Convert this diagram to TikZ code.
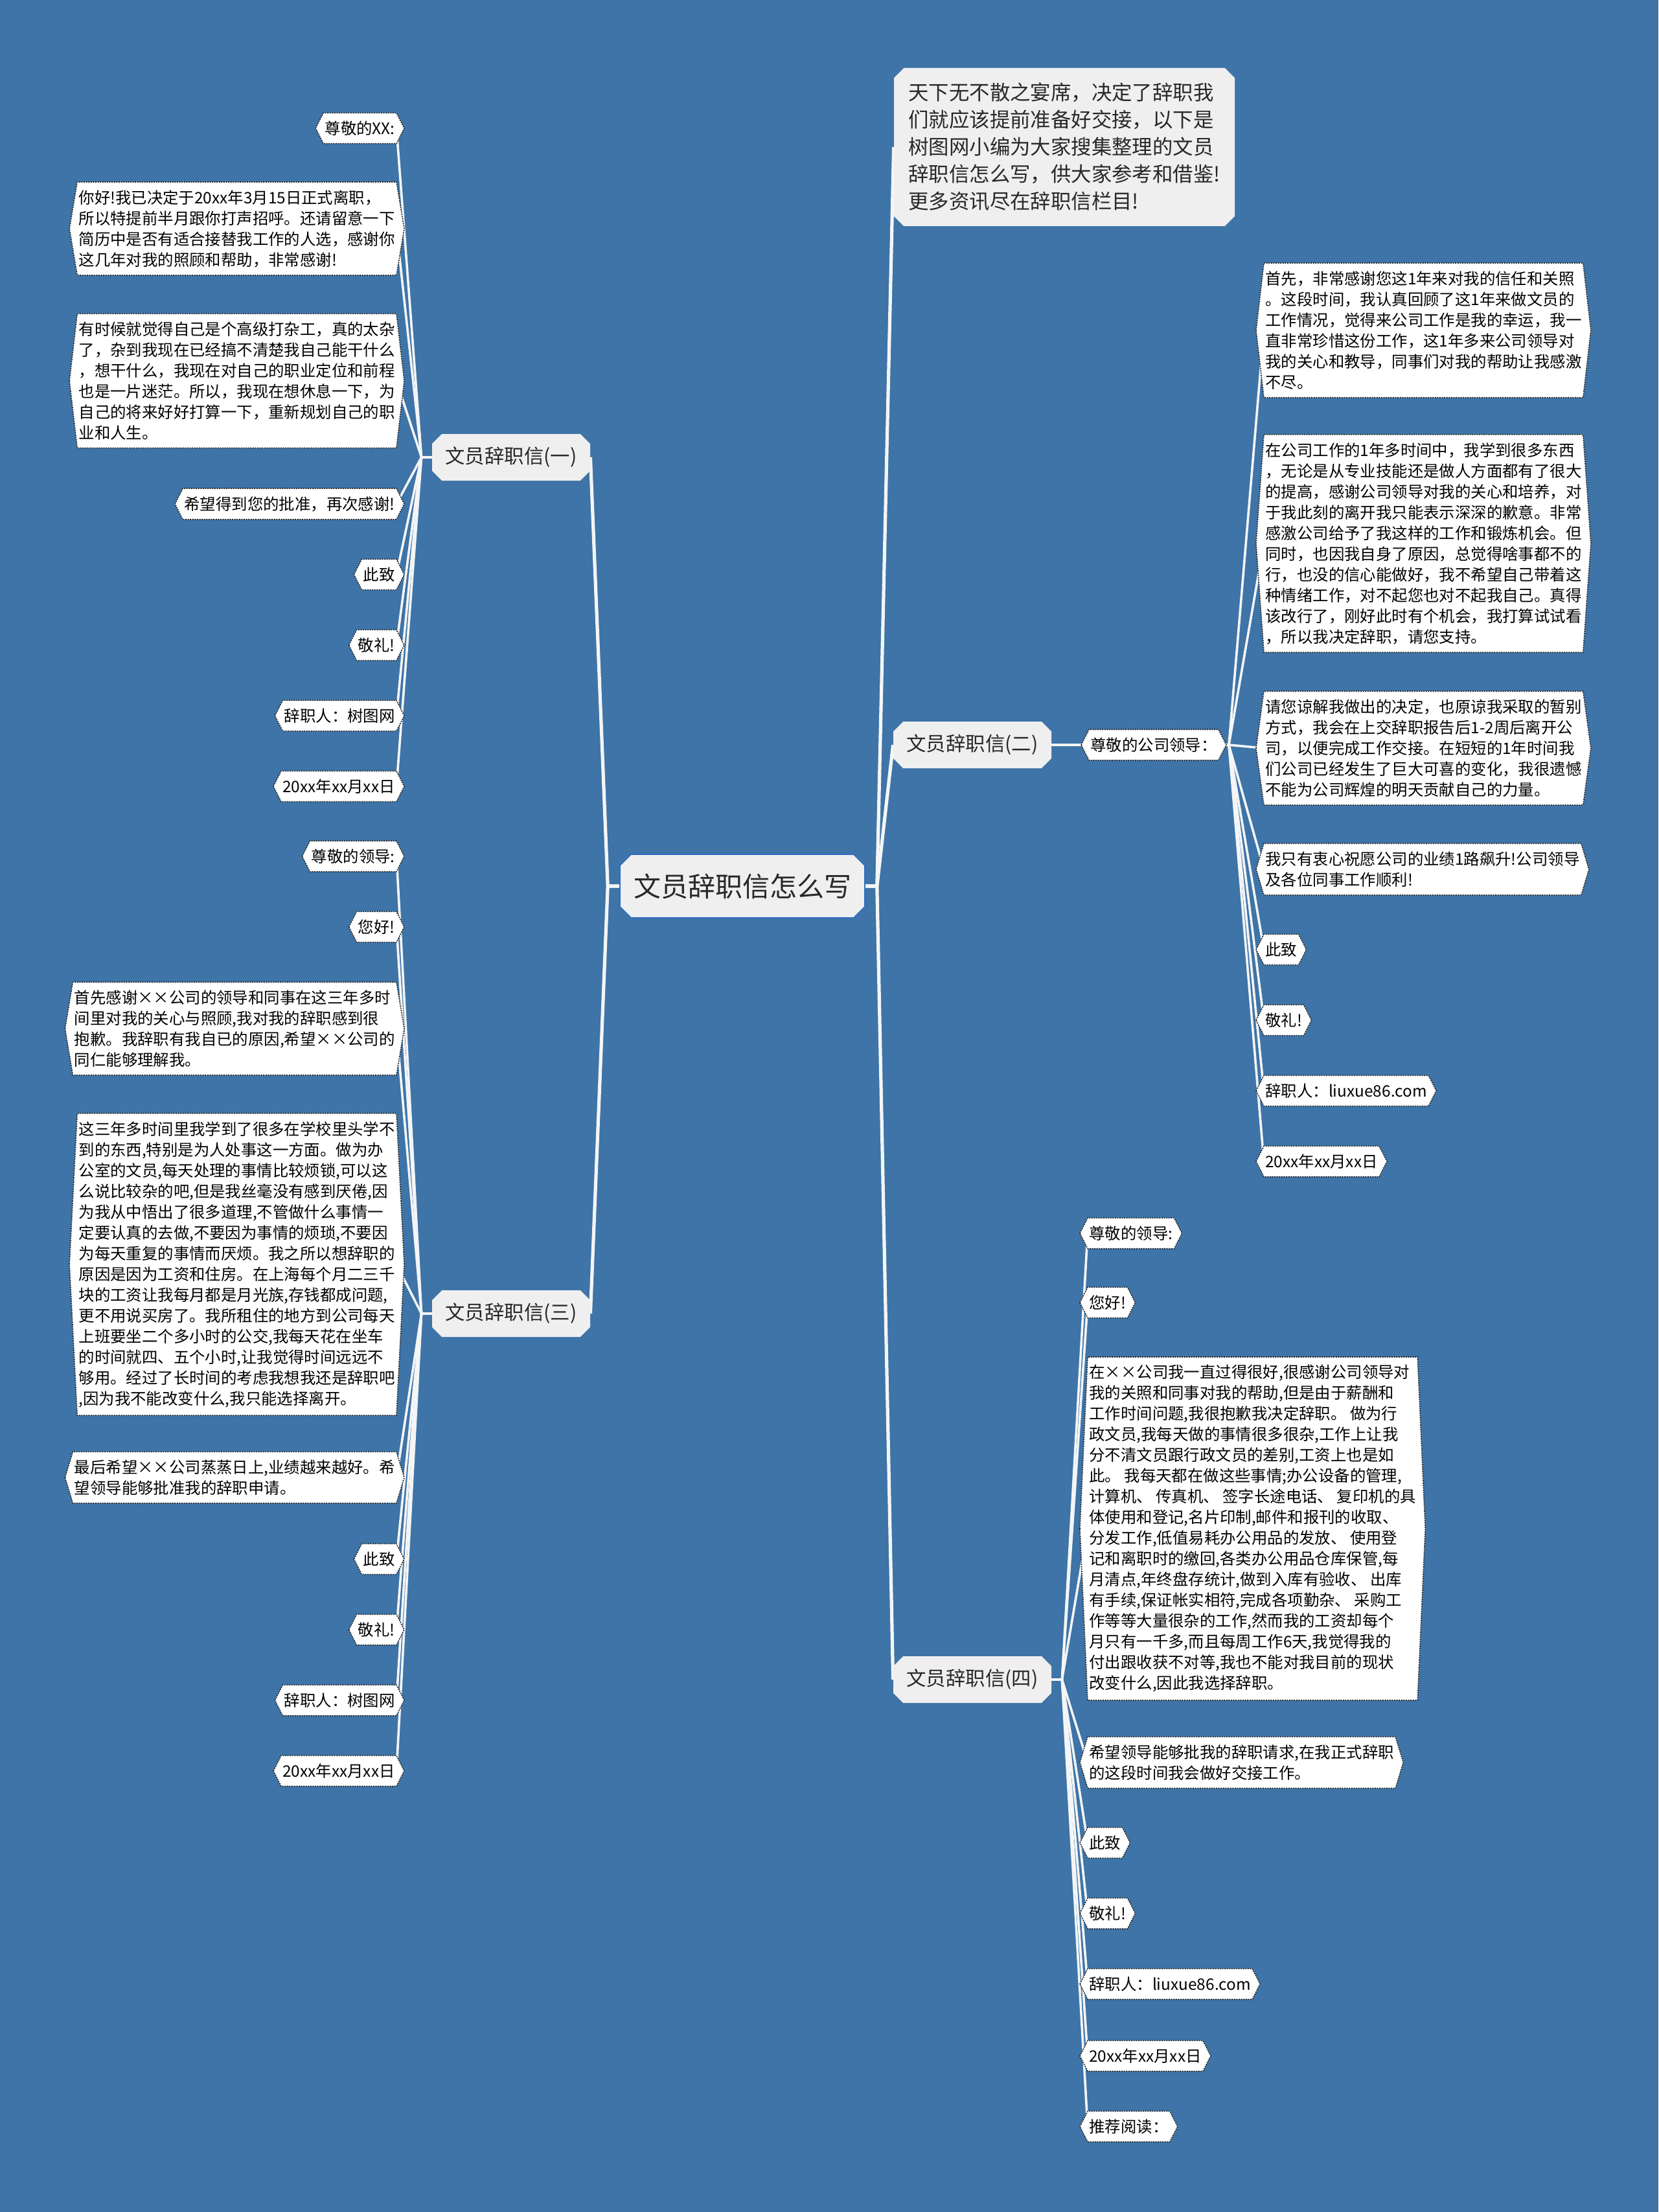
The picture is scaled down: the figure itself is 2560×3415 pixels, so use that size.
\documentclass[tikz,border=0pt]{standalone}
\usepackage{fontspec}
\setmainfont{Noto Sans CJK SC}
\usepackage{tikz}
\usetikzlibrary{shapes.misc,backgrounds}

\definecolor{bgblue}{RGB}{62,116,167}
\definecolor{linkc}{RGB}{244,245,246}
\definecolor{boxgray}{RGB}{239,239,239}
\definecolor{rootedge}{RGB}{46,110,196}
\definecolor{txt}{RGB}{40,40,40}

\tikzset{
  leaf/.style={font=\fontsize{12.2}{16}\selectfont, align=left, inner xsep=1pt, inner ysep=6pt, text=black},
  leafhex/.style={fill=white, draw=black!85, dash pattern=on 1pt off 0.8pt, line width=0.8pt},
  branch/.style={chamfered rectangle, chamfered rectangle xsep=4pt, fill=boxgray, text=txt,
    font=\fontsize{15.2}{18}\selectfont, minimum width=122pt, minimum height=36pt, inner sep=2pt},
  link/.style={draw=linkc, line width=1.8pt, line join=round},
  trunk/.style={link, line width=2.6pt},
}

\begin{document}
\begin{tikzpicture}[x=0.5pt,y=-0.5pt]
  \useasboundingbox (0,0) rectangle (2560,3415);

  % centre and main branches
  \node[chamfered rectangle, chamfered rectangle xsep=5pt, fill=boxgray, draw=rootedge, line width=0.8pt,
    text=txt, font=\fontsize{21}{24}\selectfont, minimum width=189pt, minimum height=49pt] (root) at (1146,1368) {文员辞职信怎么写};
  \node[chamfered rectangle, chamfered rectangle xsep=4pt, fill=boxgray, text=txt, align=left,
    font=\fontsize{15.7}{21}\selectfont, minimum width=263pt, minimum height=122pt] (intro) at (1643,227)
    {天下无不散之宴席，决定了辞职我\\
     们就应该提前准备好交接，以下是\\
     树图网小编为大家搜集整理的文员\\
     辞职信怎么写，供大家参考和借鉴!\\
     更多资讯尽在辞职信栏目!};
  \node[branch] (one) at (789,706) {文员辞职信(一)};
  \node[branch] (two) at (1501,1150) {文员辞职信(二)};
  \node[branch] (three) at (789,2028) {文员辞职信(三)};
  \node[branch] (four) at (1501,2593) {文员辞职信(四)};

  % letter one
  \node[leaf,anchor=east] (a1) at (612,198) {尊敬的XX:};
  \node[leaf,anchor=east] (a2) at (612,353)
    {你好!我已决定于20xx年3月15日正式离职，\\
     所以特提前半月跟你打声招呼。还请留意一下\\
     简历中是否有适合接替我工作的人选，感谢你\\
     这几年对我的照顾和帮助，非常感谢!};
  \node[leaf,anchor=east] (a3) at (612,588)
    {有时候就觉得自己是个高级打杂工，真的太杂\\
     了，杂到我现在已经搞不清楚我自己能干什么\\
     ，想干什么，我现在对自己的职业定位和前程\\
     也是一片迷茫。所以，我现在想休息一下，为\\
     自己的将来好好打算一下，重新规划自己的职\\
     业和人生。};
  \foreach \n/\y/\t in {a4/778/希望得到您的批准，再次感谢!, a5/887/此致, a6/996/敬礼!,
                        a7/1105/辞职人：树图网, a8/1214/20xx年xx月xx日}
    \node[leaf,anchor=east] (\n) at (612,\y) {\t};

  % letter two
  \node[leaf,anchor=west] (greet2) at (1681,1150) {尊敬的公司领导：};
  \node[leaf,anchor=west] (b1) at (1951,510)
    {首先，非常感谢您这1年来对我的信任和关照\\
     。这段时间，我认真回顾了这1年来做文员的\\
     工作情况，觉得来公司工作是我的幸运，我一\\
     直非常珍惜这份工作，这1年多来公司领导对\\
     我的关心和教导，同事们对我的帮助让我感激\\
     不尽。};
  \node[leaf,anchor=west] (b2) at (1951,839)
    {在公司工作的1年多时间中，我学到很多东西\\
     ，无论是从专业技能还是做人方面都有了很大\\
     的提高，感谢公司领导对我的关心和培养，对\\
     于我此刻的离开我只能表示深深的歉意。非常\\
     感激公司给予了我这样的工作和锻炼机会。但\\
     同时，也因我自身了原因，总觉得啥事都不的\\
     行，也没的信心能做好，我不希望自己带着这\\
     种情绪工作，对不起您也对不起我自己。真得\\
     该改行了，刚好此时有个机会，我打算试试看\\
     ，所以我决定辞职，请您支持。};
  \node[leaf,anchor=west] (b3) at (1951,1155)
    {请您谅解我做出的决定，也原谅我采取的暂别\\
     方式，我会在上交辞职报告后1-2周后离开公\\
     司，以便完成工作交接。在短短的1年时间我\\
     们公司已经发生了巨大可喜的变化，我很遗憾\\
     不能为公司辉煌的明天贡献自己的力量。};
  \node[leaf,anchor=west] (b4) at (1951,1342)
    {我只有衷心祝愿公司的业绩1路飙升!公司领导\\
     及各位同事工作顺利!};
  \foreach \n/\y/\t in {b5/1466/此致, b6/1575/敬礼!, b7/1684/辞职人：liuxue86.com, b8/1793/20xx年xx月xx日}
    \node[leaf,anchor=west] (\n) at (1951,\y) {\t};

  % letter three
  \node[leaf,anchor=east] (c1) at (612,1322) {尊敬的领导:};
  \node[leaf,anchor=east] (c2) at (612,1431) {您好!};
  \node[leaf,anchor=east] (c3) at (612,1588)
    {首先感谢××公司的领导和同事在这三年多时\\
     间里对我的关心与照顾,我对我的辞职感到很\\
     抱歉。我辞职有我自已的原因,希望××公司的\\
     同仁能够理解我。};
  \node[leaf,anchor=east] (c4) at (612,1952)
    {这三年多时间里我学到了很多在学校里头学不\\
     到的东西,特别是为人处事这一方面。做为办\\
     公室的文员,每天处理的事情比较烦锁,可以这\\
     么说比较杂的吧,但是我丝毫没有感到厌倦,因\\
     为我从中悟出了很多道理,不管做什么事情一\\
     定要认真的去做,不要因为事情的烦琐,不要因\\
     为每天重复的事情而厌烦。我之所以想辞职的\\
     原因是因为工资和住房。在上海每个月二三千\\
     块的工资让我每月都是月光族,存钱都成问题,\\
     更不用说买房了。我所租住的地方到公司每天\\
     上班要坐二个多小时的公交,我每天花在坐车\\
     的时间就四、五个小时,让我觉得时间远远不\\
     够用。经过了长时间的考虑我想我还是辞职吧\\
     ,因为我不能改变什么,我只能选择离开。};
  \node[leaf,anchor=east] (c5) at (612,2281)
    {最后希望××公司蒸蒸日上,业绩越来越好。希\\
     望领导能够批准我的辞职申请。};
  \foreach \n/\y/\t in {c6/2407/此致, c7/2516/敬礼!, c8/2625/辞职人：树图网, c9/2734/20xx年xx月xx日}
    \node[leaf,anchor=east] (\n) at (612,\y) {\t};

  % letter four
  \node[leaf,anchor=west] (d1) at (1679,1904) {尊敬的领导:};
  \node[leaf,anchor=west] (d2) at (1679,2011) {您好!};
  \node[leaf,anchor=west] (d3) at (1679,2360)
    {在××公司我一直过得很好,很感谢公司领导对\\
     我的关照和同事对我的帮助,但是由于薪酬和\\
     工作时间问题,我很抱歉我决定辞职。 做为行\\
     政文员,我每天做的事情很多很杂,工作上让我\\
     分不清文员跟行政文员的差别,工资上也是如\\
     此。 我每天都在做这些事情;办公设备的管理,\\
     计算机、 传真机、 签字长途电话、 复印机的具\\
     体使用和登记,名片印制,邮件和报刊的收取、\\
     分发工作,低值易耗办公用品的发放、 使用登\\
     记和离职时的缴回,各类办公用品仓库保管,每\\
     月清点,年终盘存统计,做到入库有验收、 出库\\
     有手续,保证帐实相符,完成各项勤杂、 采购工\\
     作等等大量很杂的工作,然而我的工资却每个\\
     月只有一千多,而且每周工作6天,我觉得我的\\
     付出跟收获不对等,我也不能对我目前的现状\\
     改变什么,因此我选择辞职。};
  \node[leaf,anchor=west] (d4) at (1679,2721)
    {希望领导能够批我的辞职请求,在我正式辞职\\
     的这段时间我会做好交接工作。};
  \foreach \n/\y/\t in {d5/2845/此致, d6/2954/敬礼!, d7/3063/辞职人：liuxue86.com,
                        d8/3174/20xx年xx月xx日, d9/3283/推荐阅读：}
    \node[leaf,anchor=west] (\n) at (1679,\y) {\t};

  \begin{scope}[on background layer]
    \fill[bgblue] (0,0) rectangle (2560,3415);
    % connectors
    \foreach \b in {one,three}
      \draw[trunk] (root.west) -- ++(-18,0) -- (\b.east);
    \foreach \b in {intro,two,four}
      \draw[trunk] (root.east) -- ++(18,0) -- (\b.west);
    \draw[link] (two.east) -- (greet2.west);
    \foreach \i in {1,...,8} {
      \draw[link] (one.west) -- ++(-16,0) -- (a\i.east);
      \draw[link] (greet2.east) -- ++(16,0) -- (b\i.west);
    }
    \foreach \i in {1,...,9} {
      \draw[link] (three.west) -- ++(-16,0) -- (c\i.east);
      \draw[link] (four.east) -- ++(16,0) -- (d\i.west);
    }
    % hexagon outlines of the leaves
    \foreach \p/\k in {a/8,b/8,c/9,d/9}
      \foreach \i in {1,...,\k}
        \draw[leafhex] ([xshift=-6pt]\p\i.west) -- (\p\i.north west) -- (\p\i.north east)
          -- ([xshift=6pt]\p\i.east) -- (\p\i.south east) -- (\p\i.south west) -- cycle;
    \draw[leafhex] ([xshift=-6pt]greet2.west) -- (greet2.north west) -- (greet2.north east)
      -- ([xshift=6pt]greet2.east) -- (greet2.south east) -- (greet2.south west) -- cycle;
  \end{scope}
\end{tikzpicture}
\end{document}
